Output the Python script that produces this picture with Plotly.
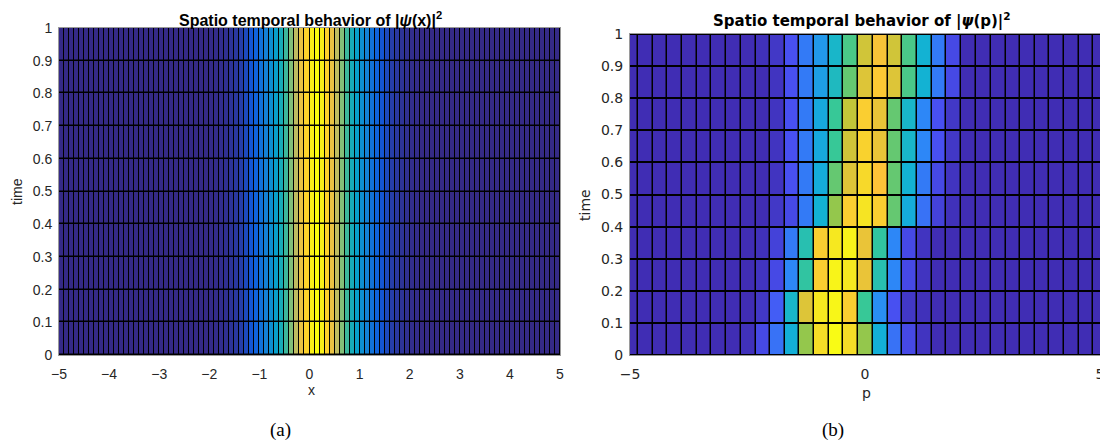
import plotly.graph_objects as go

# page body has an 8px margin, so the figure is drawn 8px smaller and offset
OFF = 8
W, H = 1108 - OFF, 443 - OFF

# ---------------- data ----------------
t_edges = [0.0, 0.1, 0.2, 0.3, 0.4, 0.5, 0.6, 0.7, 0.8, 0.9, 1.0]

# panel (a): x grid (cell edges) and |psi(x)|^2 per column (same for every time row)
x_edges = [round(-5 + 0.1 * i, 1) for i in range(101)]
psi_x = [0.0] * 30 + [
    0.003, 0.006, 0.01, 0.015, 0.025, 0.035, 0.05, 0.08, 0.11, 0.15,
    0.2, 0.25, 0.3, 0.36, 0.43, 0.52, 0.62, 0.72, 0.82, 0.9,
    0.97, 1.0, 0.97, 0.9, 0.82, 0.72, 0.62, 0.52, 0.43, 0.36,
    0.3, 0.25, 0.2, 0.15, 0.11, 0.08, 0.05, 0.035, 0.025, 0.015,
    0.01, 0.006,
] + [0.0] * 28
psi_x = psi_x[:100]

# panel (b): p grid (cell edges) and |psi(p)|^2, one row per time step (t=0 first)
p_edges = [-5.15, -4.84, -4.52, -4.21, -3.90, -3.58, -3.27, -2.96, -2.65, -2.33,
           -2.02, -1.71, -1.40, -1.08, -0.77, -0.46, -0.14, 0.17, 0.48, 0.79,
           1.11, 1.42, 1.73, 2.05, 2.36, 2.67, 2.99, 3.30, 3.61, 3.92,
           4.24, 4.55, 4.86, 5.18]
L = [0.02] * 8
R = [0.02] * 10
psi_p = [
    L + [0.03, 0.10, 0.20, 0.37, 0.60, 0.87, 1.00, 0.87, 0.60, 0.37, 0.20, 0.10, 0.04, 0.02, 0.02] + R,
    L + [0.02, 0.05, 0.15, 0.40, 0.70, 0.92, 0.98, 0.80, 0.50, 0.27, 0.12, 0.05, 0.03, 0.02, 0.02] + R,
    L + [0.02, 0.04, 0.10, 0.25, 0.48, 0.80, 0.97, 0.92, 0.72, 0.45, 0.25, 0.10, 0.04, 0.02, 0.02] + R,
    L + [0.02, 0.03, 0.08, 0.22, 0.45, 0.80, 0.92, 0.96, 0.72, 0.48, 0.25, 0.10, 0.04, 0.02, 0.02] + R,
    L + [0.02, 0.02, 0.05, 0.10, 0.22, 0.38, 0.60, 0.80, 0.90, 0.80, 0.55, 0.36, 0.20, 0.08, 0.03] + R,
    L + [0.02, 0.02, 0.04, 0.12, 0.22, 0.36, 0.55, 0.70, 0.85, 0.75, 0.55, 0.38, 0.22, 0.10, 0.04] + R,
    L + [0.02, 0.02, 0.04, 0.12, 0.22, 0.35, 0.50, 0.68, 0.82, 0.72, 0.55, 0.40, 0.25, 0.12, 0.05] + R,
    L + [0.02, 0.02, 0.04, 0.12, 0.22, 0.35, 0.50, 0.66, 0.80, 0.72, 0.55, 0.40, 0.25, 0.12, 0.05] + R,
    L + [0.02, 0.02, 0.04, 0.12, 0.22, 0.32, 0.42, 0.55, 0.70, 0.78, 0.70, 0.52, 0.38, 0.22, 0.10] + R,
    L + [0.02, 0.03, 0.05, 0.12, 0.22, 0.30, 0.40, 0.52, 0.68, 0.74, 0.68, 0.52, 0.38, 0.22, 0.10] + R,
]

x_ticks = [-5, -4, -3, -2, -1, 0, 1, 2, 3, 4, 5]
p_ticks = [-5, 0, 5]
t_ticks = [0, 0.1, 0.2, 0.3, 0.4, 0.5, 0.6, 0.7, 0.8, 0.9, 1]
t_labels = ["0", "0.1", "0.2", "0.3", "0.4", "0.5", "0.6", "0.7", "0.8", "0.9", "1"]

# ---------------- styling ----------------
parula_new = [[0.0, "#352A87"], [0.125, "#0F5CDD"], [0.25, "#1481D6"], [0.375, "#06A4CA"],
              [0.5, "#2EB7A4"], [0.625, "#87BF77"], [0.75, "#D1BB59"], [0.875, "#FEC832"],
              [1.0, "#F9FB0E"]]
parula_old = [[0.0, "#3E26A8"], [0.125, "#4852F4"], [0.25, "#2D87F7"], [0.375, "#12B1D6"],
              [0.5, "#37C897"], [0.625, "#ABC739"], [0.75, "#FEC338"], [0.875, "#F5DE26"],
              [1.0, "#F9FB15"]]


def px(x):
    return (x - OFF) / W


def py(y):
    return 1 - (y - OFF) / H


fig = go.Figure()
fig.add_trace(go.Heatmap(x=x_edges, y=t_edges, z=[psi_x] * 10, colorscale=parula_new,
                         zmin=0, zmax=1, xgap=1, ygap=1.5, showscale=False,
                         xaxis="x", yaxis="y", hoverinfo="skip"))
fig.add_trace(go.Heatmap(x=p_edges, y=t_edges, z=psi_p, colorscale=parula_old,
                         zmin=0, zmax=1, xgap=1.5, ygap=2, showscale=False,
                         xaxis="x2", yaxis="y2", hoverinfo="skip"))

fa = dict(family="Liberation Sans, Arial", size=14, color="#262626")
fb = dict(family="DejaVu Sans", size=14, color="#262626")

common = dict(showgrid=False, zeroline=False, ticks="", showline=True,
              linecolor="#9a9a9a", linewidth=1, mirror=True, automargin=False)

fig.update_layout(
    width=W, height=H,
    margin=dict(l=0, r=0, t=0, b=0),
    paper_bgcolor="white",
    plot_bgcolor="black",
    xaxis=dict(domain=[px(59), px(560)], range=[-5, 5], tickvals=x_ticks,
               tickfont=fa, anchor="y", ticklabelstandoff=6, **common),
    yaxis=dict(domain=[py(355), py(28)], range=[0, 1], tickvals=t_ticks, ticktext=t_labels,
               tickfont=fa, anchor="x", ticklabelstandoff=3, **common),
    xaxis2=dict(domain=[px(630), px(1100)], range=[-5, 5], tickvals=p_ticks,
                tickfont=fb, anchor="y2", ticklabelstandoff=6, **common),
    yaxis2=dict(domain=[py(355), py(34)], range=[0, 1], tickvals=t_ticks, ticktext=t_labels,
                tickfont=fb, anchor="x2", ticklabelstandoff=3, **common),
    showlegend=False,
)


def note(x, y, text, font, angle=0):
    return dict(x=px(x), y=py(y), xref="paper", yref="paper", showarrow=False,
                xanchor="center", yanchor="middle", text=text, font=font, textangle=angle)


serif = dict(family="Liberation Serif, Times New Roman", size=19, color="black")
ann = [
    note(310, 19, "<b>Spatio temporal behavior of |<i>ψ</i>(x)|<sup>2</sup></b>",
         dict(family="Liberation Sans, Arial", size=16, color="black")),
    note(862, 21, "<b>Spatio temporal behavior of |<i>ψ</i>(p)|<sup>2</sup></b>",
         dict(family="DejaVu Sans", size=15, color="black")),
    note(17, 192, "time", fa, -90),
    note(585, 205, "time", fb, -90),
    note(311, 390, "x", fa),
    note(866, 393, "p", fb),
    note(280, 430, "(a)", serif),
    note(833, 430, "(b)", serif),
]
fig.update_layout(annotations=ann)

fig.write_html("out.html")
